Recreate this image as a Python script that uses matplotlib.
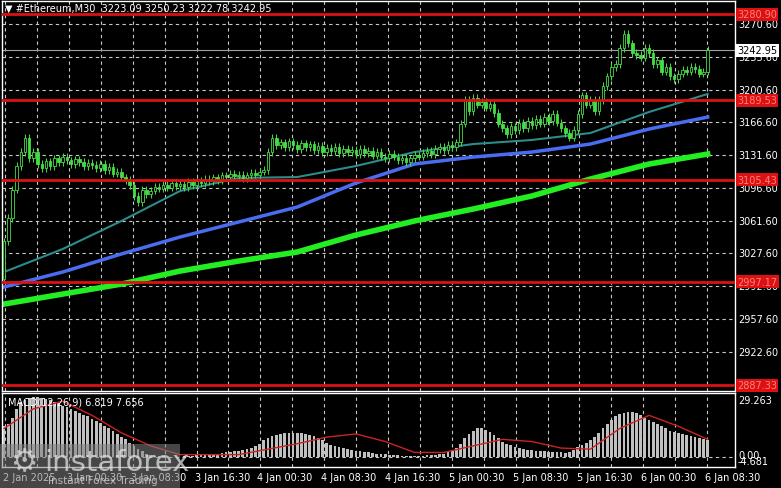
import matplotlib
matplotlib.use("Agg")
import matplotlib.pyplot as plt
import numpy as np

closes = [3040,3065,3095,3120,3135,
 3150,3128,3135,
 3122,3118,3125,3120,3128,3124,3130,3126,3122,3127,3124,3120,3123,3121,3118,3122,3116,3119,
 3112,3114,3108,3105,3100,
 3088,3082,3095,3090,
 3094,3098,3096,3100,3097,3102,3099,3101,3098,3103,3100,3104,3102,3106,3104,
 3108,3105,3110,3108,3112,3109,3111,3107,3110,3113,3111,3114,3116,
 3135,3150,3142,
 3145,3140,3146,3142,3138,3144,3140,3143,3137,3141,3135,3139,3136,3140,3134,3138,3135,
 3137,3133,3138,3134,3136,3131,3135,3130,3128,3133,3130,3126,3129,3124,3128,3132,3130,3134,3136,3133,3138,3140,3137,3142,3140,3145,
 3165,3190,3178,3192,
 3185,3188,3182,3186,3176,3165,
 3160,3154,3162,3158,3166,3160,3168,3163,3170,3165,3172,3168,3175,
 3166,3160,3155,3150,3158,
 3175,3195,3185,3190,3178,
 3190,3205,3215,3225,
 3228,3245,3260,3250,3240,
 3238,3235,3245,3240,3228,3232,3220,3225,
 3215,3212,3218,3222,3220,3225,3223,3218,3220,
 3242.95]
first_open = 3000

ma_idx = [0,14,28,42,56,70,84,98,112,126,140,154,168]
ma_teal = [3007.6,3032.0,3061.7,3093.5,3107.3,3108.3,3120.0,3134.8,3143.3,3147.6,3155.0,3177.3,3196.4]
ma_blue = [2991.7,3007.6,3026.7,3044.7,3060.6,3076.5,3102.0,3122.1,3129.5,3134.8,3143.3,3159.2,3171.9]
ma_green = [2973.6,2984.2,2994.8,3008.6,3019.2,3028.8,3046.8,3061.7,3074.4,3088.2,3106.2,3122.1,3132.7]

macd_hist = [14,15,18,22,25,
 26,27,27.5,27.5,27,26.5,
 26,25,24.5,23.5,23,22,21,20,19,18.5,
 17.5,16.5,15.5,14,13,12,10.5,9,8,6.5,
 5,3.5,2.5,1.5,1,0.5,
 0.3,0.2,0.1,0,-0.2,0,0.2,0.3,0.5,0.8,1,1.2,1.2,1.5,
 1.5,1.8,2,2.2,2.5,2.8,3,3.5,4,5,
 6,7.5,8.5,9.5,10,10.5,
 10.8,11,11,10.8,10.8,10.5,10,9.5,8.5,7.5,
 6.5,5.5,5,4.5,4,3.5,3,2.8,2.5,2.2,
 2,1.8,1.5,1.3,1.2,1,0.8,0.6,0.5,0.4,0.3,0.3,0.4,0.5,0.6,0.8,1,1.2,1.5,2,
 2.5,4,6,8.5,10.5,12,13,13.2,12.5,11.5,
 10,8.5,7,6,5.2,4.5,4,3.5,3.2,3,2.8,2.6,2.5,2.4,
 2.3,2.2,2,1.8,2,3,4.5,5.5,6.5,7.5,
 9,11,13,15,17,18.5,19.5,20,20.5,20.5,
 20,19,18,17,16,15,14,13,12,11.5,
 11,10.5,10,9.5,9,8.5,8,7.5]
sig_idx = [0,7,14,21,28,35,42,56,70,77,84,91,98,105,112,119,126,133,140,147,154,161,168]
macd_signal = [13,22,25.5,19,11,5,1,1,6,9,10.5,7,2,2,5,8,7,4,3.5,13,19,14,8]

levels = [3280.90, 3189.53, 3105.43, 2997.17, 2887.33]
level_labels = ["3280.90", "3189.53", "3105.43", "2997.17", "2887.33"]
price_ticks = [3270.60,3235.60,3200.60,3166.60,3131.60,3096.60,3061.60,3027.60,2992.60,2957.60,2922.60]
last_price = 3242.95
time_labels = ["2 Jan 2025","3 Jan 00:30","3 Jan 08:30","3 Jan 16:30","4 Jan 00:30","4 Jan 08:30",
               "4 Jan 16:30","5 Jan 00:30","5 Jan 08:30","5 Jan 16:30","6 Jan 00:30","6 Jan 08:30"]
time_px = [3,67,131,195,257,321,385,449,513,577,641,705]

W, H = 781, 489
fig = plt.figure(figsize=(W/100, H/100), dpi=100, facecolor="black")
def ax_rect(x0, y0, x1, y1):
    return [x0/W, 1-y1/H, (x1-x0)/W, (y1-y0)/H]
ax = fig.add_axes(ax_rect(2, 2, 735, 392), facecolor="black")
ax2 = fig.add_axes(ax_rect(2, 394, 735, 468), facecolor="black")

px2idx = lambda px: (px-2)/4.2
xlim = (px2idx(2)-0.5, px2idx(735))
for a in (ax, ax2):
    a.set_xlim(*xlim)
    for s in a.spines.values():
        s.set_color("white"); s.set_linewidth(1)
    a.set_xticks([]); a.set_yticks([])
ylo, yhi = 2881.4, 3295.0
ax.set_ylim(ylo, yhi)
ax2.set_ylim(-4.681, 29.263)

grid_px = np.arange(3, 735, 32)
for gx in grid_px:
    for a in (ax, ax2):
        a.axvline(px2idx(gx), color="#c8c8c8", lw=0.8, ls=(0, (3, 3)), zorder=0)
for t in price_ticks:
    ax.axhline(t, color="#c8c8c8", lw=0.8, ls=(0, (3, 3)), zorder=0)
ax2.axhline(0, color="#c8c8c8", lw=0.8, ls=(0, (3, 3)), zorder=0)

ax.plot(ma_idx, ma_teal, color="#2e8b8b", lw=1.5, zorder=2)
ax.plot(ma_idx, ma_blue, color="#4a6cf0", lw=2.5, zorder=2)
ax.plot(ma_idx, ma_green, color="#22ee22", lw=4, zorder=2)

opens = [first_open] + closes[:-1]
for i, (o, c) in enumerate(zip(opens, closes)):
    lo, hi = min(o, c), max(o, c)
    ax.vlines(i, lo - 4, hi + 4, color="#44dd44", lw=0.7, zorder=3)
    ax.bar(i, max(hi - lo, 0.8), bottom=lo, width=0.6, color="black" if c >= o else "#44dd44",
           edgecolor="#44dd44", lw=0.6, zorder=4)

ax.axhline(last_price, color="#a0a0a0", lw=0.8, zorder=1)
for lv in levels:
    ax.axhline(lv, color="#dd1111", lw=2, zorder=5)

ax2.bar(range(len(macd_hist)), macd_hist, width=0.65, color="#c0c0c0", zorder=2)
ax2.plot(sig_idx, macd_signal, color="#cc2222", lw=1, zorder=3)

def py(p):
    return 2 + (yhi - p) / (yhi - ylo) * 390

fs = 7
for t in price_ticks:
    fig.text(738/W, 1-py(t)/H, f"{t:.2f}", color="white", fontsize=fs, va="center", ha="left")
for lv, lb in zip(levels, level_labels):
    y = py(lv)
    fig.text(737/W, 1-y/H, lb, color="#ff8080", fontsize=fs, va="center", ha="left",
             bbox=dict(boxstyle="square,pad=0.15", fc="#dd1111", ec="none"))
fig.text(737/W, 1-py(last_price)/H, f"{last_price:.2f}", color="black", fontsize=fs, va="center",
         ha="left", bbox=dict(boxstyle="square,pad=0.15", fc="white", ec="none"))
fig.text(738/W, 1-401/H, "29.263", color="white", fontsize=fs, va="center")
fig.text(738/W, 1-456/H, "0.00", color="white", fontsize=fs, va="center")
fig.text(738/W, 1-462/H, "-4.681", color="white", fontsize=fs, va="center")

for lb, px in zip(time_labels, time_px):
    fig.text(px/W, 1-478/H, lb, color="white", fontsize=fs, va="center", ha="left")

fig.text(5/W, 1-9/H, "\u25bc #Ethereum,M30  3223.09 3250.23 3222.78 3242.95", color="white", fontsize=fs, va="center")
fig.text(8/W, 1-403/H, "MACD(12,26,9) 6.819 7.656", color="white", fontsize=fs, va="center")

fig.patches.append(plt.Rectangle((0, 0), 180/W, 44/H, transform=fig.transFigure,
                                 fc="#808080", alpha=0.55, ec="none", zorder=10))
fig.text(44/W, 1-463/H, "instaforex", color="#e0e0e0", alpha=0.75, fontsize=21, va="center", zorder=11)
fig.text(48/W, 1-481/H, "Instant Forex Trading", color="#e0e0e0", alpha=0.75, fontsize=7.5, va="center", zorder=11)
fig.text(10/W, 1-463/H, "\u2699", color="#e0e0e0", alpha=0.75, fontsize=22, va="center", zorder=11)

fig.savefig("out.png", dpi=100, facecolor="black")
